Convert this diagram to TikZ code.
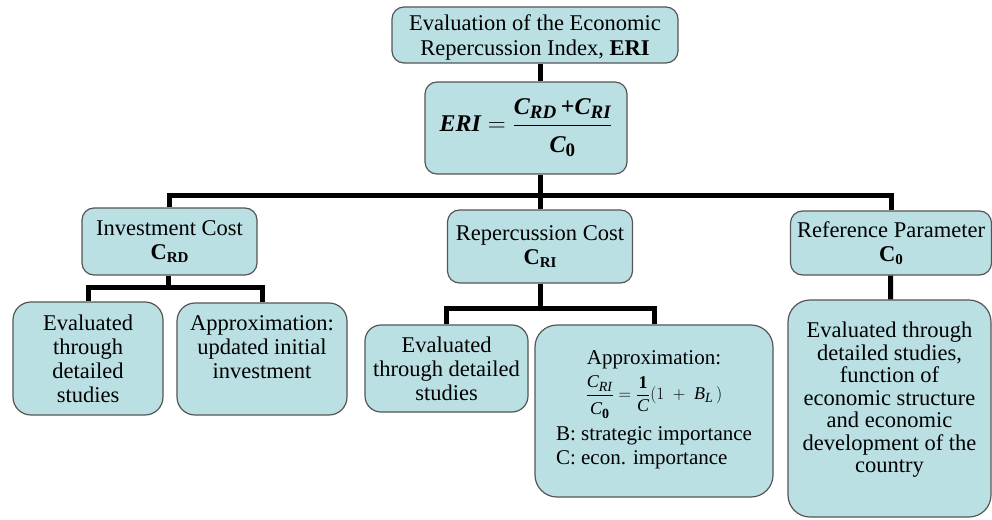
\documentclass[tikz,border=0pt]{standalone}
\usepackage{amsmath}
\usepackage{fontspec}
\setmainfont{Liberation Serif}
\usepackage{tikz}
\definecolor{boxfill}{RGB}{186,224,228}
\definecolor{boxline}{RGB}{85,85,85}
\newcommand{\bitx}[1]{\text{\bfseries\itshape #1}}
\newcommand{\bsub}[1]{\text{\fontsize{19}{19}\selectfont\bfseries\itshape #1}}
\newcommand{\csub}[1]{\textbf{C}\raisebox{-3pt}{\fontsize{15}{15}\selectfont\bfseries #1}}
\newcommand{\isub}[1]{\text{\fontsize{14}{14}\selectfont\itshape #1}}

\begin{document}
\begin{tikzpicture}[x=1pt, y=-1pt,
    font=\fontsize{22.5}{24}\selectfont,
    box/.style={draw=boxline, line width=1.2pt, fill=boxfill,
                rounded corners=12pt, align=center, inner sep=0pt},
    bigbox/.style={box, rounded corners=22pt},
    conn/.style={line width=5pt, line join=miter},
  ]
  \useasboundingbox (0,0) rectangle (992,519);

  \node[box, minimum width=286pt, minimum height=56pt, font=\fontsize{22.5}{25}\selectfont] (top) at (535,35)
    {\rule{0pt}{21pt}Evaluation of the Economic\\Repercussion Index, \textbf{ERI}};
  \node[box, minimum width=202pt, minimum height=92pt] (eri) at (526,128)
    {\fontsize{24}{28}\selectfont
     $\bitx{ERI}=\dfrac{\bitx{C}_{\bsub{RD}}\,\text{\bfseries+}\bitx{C}_{\bsub{RI}}\rule[-7pt]{0pt}{7pt}}
                       {\bitx{C}_{\text{\fontsize{19}{19}\selectfont\bfseries 0}}\rule{0pt}{24pt}}$};

  % cost components
  \node[box, minimum width=175pt, minimum height=67pt] (inv) at (169.5,241.5)
    {Investment Cost\\\csub{RD}};
  \node[box, minimum width=185pt, minimum height=73pt] (rep) at (540,246.5)
    {Repercussion Cost\\\csub{RI}};
  \node[box, minimum width=201pt, minimum height=64pt] (ref) at (891,243)
    {Reference Parameter\\\csub{0}};

  % how each one is obtained
  \node[bigbox, rounded corners=18pt, minimum width=150pt, minimum height=113pt] (ev1) at (88,358.5)
    {Evaluated\\through\\detailed\\studies};
  \node[bigbox, rounded corners=18pt, minimum width=170pt, minimum height=112pt] (ap1) at (262,359)
    {Approximation:\\updated initial\\investment\\\mbox{}};
  \node[bigbox, rounded corners=16pt, minimum width=163pt, minimum height=87pt] (ev2) at (446.5,368.5)
    {Evaluated\\through detailed\\studies};
  \node[bigbox, minimum width=238pt, minimum height=172pt, font=\fontsize{21}{24}\selectfont] (ap2) at (654,411)
    {Approximation:\\[6pt]
     {\fontsize{18}{20}\selectfont
      $\displaystyle\frac{\textit{C}_{\isub{RI}}\rule[-5pt]{0pt}{5pt}}{\textit{C}_{\text{\fontsize{14}{14}\selectfont\bfseries 0}}\rule{0pt}{17pt}}
        =\frac{\textbf{1}}{\textit{C}}(1\;+\;\textit{B}_{\isub{L}}\,)$}\\[4pt]
     \begin{tabular}{@{}l@{}}B: strategic importance\\C: econ. importance\end{tabular}};
  \node[bigbox, minimum width=203pt, minimum height=217pt, font=\fontsize{22.5}{22.5}\selectfont] (ref2) at (889.5,408.5)
    {Evaluated through\\detailed studies,\\function of\\economic structure\\and economic\\development of the\\country\\\mbox{}};

  % connectors
  \coordinate (bus) at (540,195);
  \coordinate (invbus) at (168,287);
  \coordinate (repbus) at (540,308);
  \draw[conn] (top.south -| bus) -- (eri.north -| bus);
  \draw[conn] (eri.south -| bus) -- (bus);
  \draw[conn] (inv.north) |- (bus) -| (ref.north);
  \draw[conn] (bus) -- (rep.north);
  \draw[conn] (inv.south -| invbus) -- (invbus);
  \draw[conn] (ev1.north) |- (invbus) -| (ap1.north);
  \draw[conn] (rep.south) -- (repbus);
  \draw[conn] (ev2.north) |- (repbus) -| (ap2.north);
  \draw[conn] (ref) -- (ref2);
\end{tikzpicture}
\end{document}
